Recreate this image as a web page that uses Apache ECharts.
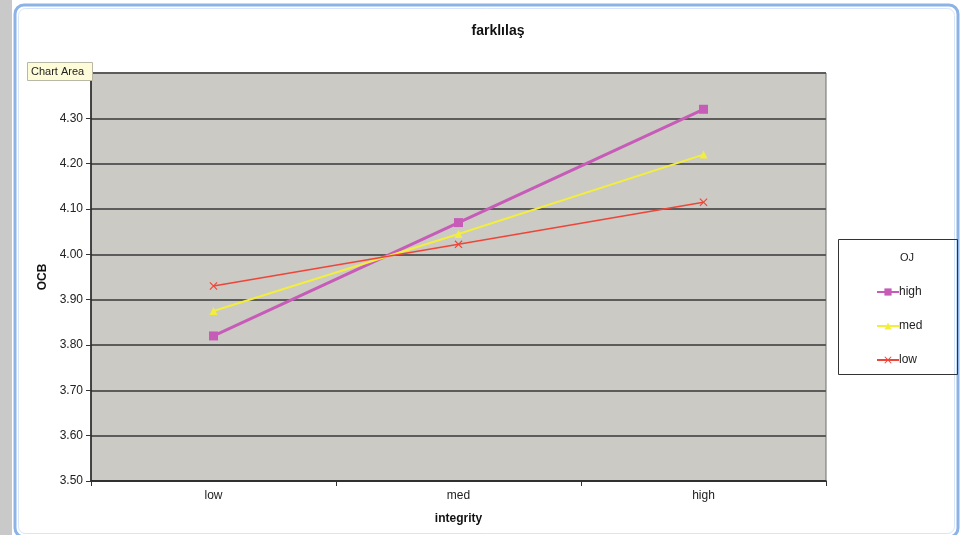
<!DOCTYPE html>
<html>
<head>
<meta charset="utf-8">
<script src="https://cdn.jsdelivr.net/npm/echarts@6/dist/echarts.min.js"></script>
<style>
  html, body { margin: 0; padding: 0; background: #ffffff; }
  #chart { width: 964px; height: 535px; }
</style>
</head>
<body>
<div id="chart"></div>
<script>
// Integrity levels on the category axis
const categories = ['low', 'med', 'high'];
// OCB means for each OJ group
const ojHigh = [3.82, 4.07, 4.32];
const ojMed = [3.875, 4.045, 4.22];
const ojLow = [3.93, 4.022, 4.115];
const seriesNames = ['high', 'med', 'low'];

const FONT = '"Liberation Sans", Arial, Helvetica, sans-serif';
const crossPath = 'path://M0,1 L1,0 L5,4 L9,0 L10,1 L6,5 L10,9 L9,10 L5,6 L1,10 L0,9 L4,5 Z';

const chart = echarts.init(document.getElementById('chart'), null, { renderer: 'canvas' });

chart.setOption({
  animation: false,
  backgroundColor: '#ffffff',
  textStyle: { fontFamily: FONT },
  title: {
    text: 'farklılaş',
    left: 493,
    top: 19,
    textAlign: 'center',
    textStyle: { fontFamily: FONT, fontSize: 14, fontWeight: 'bold', color: '#111' }
  },
  grid: {
    left: 91, right: 138, top: 73, bottom: 54,
    show: true,
    backgroundColor: '#cbcac5',
    borderColor: '#6e6e6e',
    borderWidth: 1
  },
  legend: {
    orient: 'vertical',
    left: 871,
    top: 281,
    itemGap: 22,
    itemWidth: 22,
    itemHeight: 9,
    data: seriesNames,
    textStyle: { fontFamily: FONT, fontSize: 12, color: '#222', padding: [0, 0, 0, -5] }
  },
  xAxis: {
    type: 'category',
    data: categories,
    boundaryGap: true,
    name: 'integrity',
    nameLocation: 'middle',
    nameGap: 32,
    nameTextStyle: { fontFamily: FONT, fontSize: 12, fontWeight: 'bold', color: '#111' },
    axisLine: { lineStyle: { color: '#222', width: 1.5 } },
    axisTick: { show: true, alignWithLabel: false, length: 5, lineStyle: { color: '#333' } },
    axisLabel: { fontFamily: FONT, fontSize: 12, color: '#222', margin: 9 },
    splitLine: { show: false }
  },
  yAxis: {
    type: 'value',
    min: 3.5,
    max: 4.4,
    interval: 0.1,
    name: 'OCB',
    nameLocation: 'middle',
    nameGap: 41,
    nameRotate: 90,
    nameTextStyle: { fontFamily: FONT, fontSize: 12, fontWeight: 'bold', color: '#111' },
    axisLine: { show: true, lineStyle: { color: '#222', width: 1.5 } },
    axisTick: { show: true, length: 5, lineStyle: { color: '#333' } },
    axisLabel: {
      fontFamily: FONT, fontSize: 12, color: '#222', margin: 8,
      formatter: v => v.toFixed(2)
    },
    splitLine: { show: true, lineStyle: { color: '#5c5c5c', width: 2 } }
  },
  series: [
    {
      name: 'high', type: 'line', data: ojHigh,
      symbol: 'rect', symbolSize: 9,
      lineStyle: { color: '#c75cb8', width: 3 },
      itemStyle: { color: '#c75cb8' }
    },
    {
      name: 'med', type: 'line', data: ojMed,
      symbol: 'triangle', symbolSize: 8,
      lineStyle: { color: '#f3ee3c', width: 2 },
      itemStyle: { color: '#f3ee3c' }
    },
    {
      name: 'low', type: 'line', data: ojLow,
      symbol: crossPath, symbolSize: 8,
      lineStyle: { color: '#ef4538', width: 1.5 },
      itemStyle: { color: '#ef4538' }
    }
  ],
  graphic: [
    // window frame
    { type: 'rect', z: -10, shape: { x: 0, y: 0, width: 12, height: 535 }, style: { fill: '#c9c9c9' } },
    { type: 'rect', z: -9, shape: { x: 15, y: 5, width: 943, height: 532, r: 9 },
      style: { fill: '#ffffff', stroke: '#8db3e6', lineWidth: 3 } },
    { type: 'rect', z: -9, shape: { x: 18.5, y: 8.5, width: 936, height: 525, r: 7 },
      style: { fill: 'none', stroke: '#d7e5f7', lineWidth: 1 } },
    // legend box and its title
    { type: 'rect', z: 5, shape: { x: 838.5, y: 239.5, width: 119, height: 135 },
      style: { fill: 'none', stroke: '#333', lineWidth: 1 } },
    { type: 'text', z: 6, left: 900, top: 252,
      style: { text: 'OJ', font: '11px ' + FONT, fill: '#222' } },
    // hover tip
    { type: 'rect', z: 20, shape: { x: 27.5, y: 62.5, width: 65, height: 18 },
      style: { fill: '#fdfbd8', stroke: '#b9b8a4', lineWidth: 1 } },
    { type: 'text', z: 21, left: 31, top: 66,
      style: { text: 'Chart Area', font: '11px ' + FONT, fill: '#222' } }
  ]
});
</script>
</body>
</html>
